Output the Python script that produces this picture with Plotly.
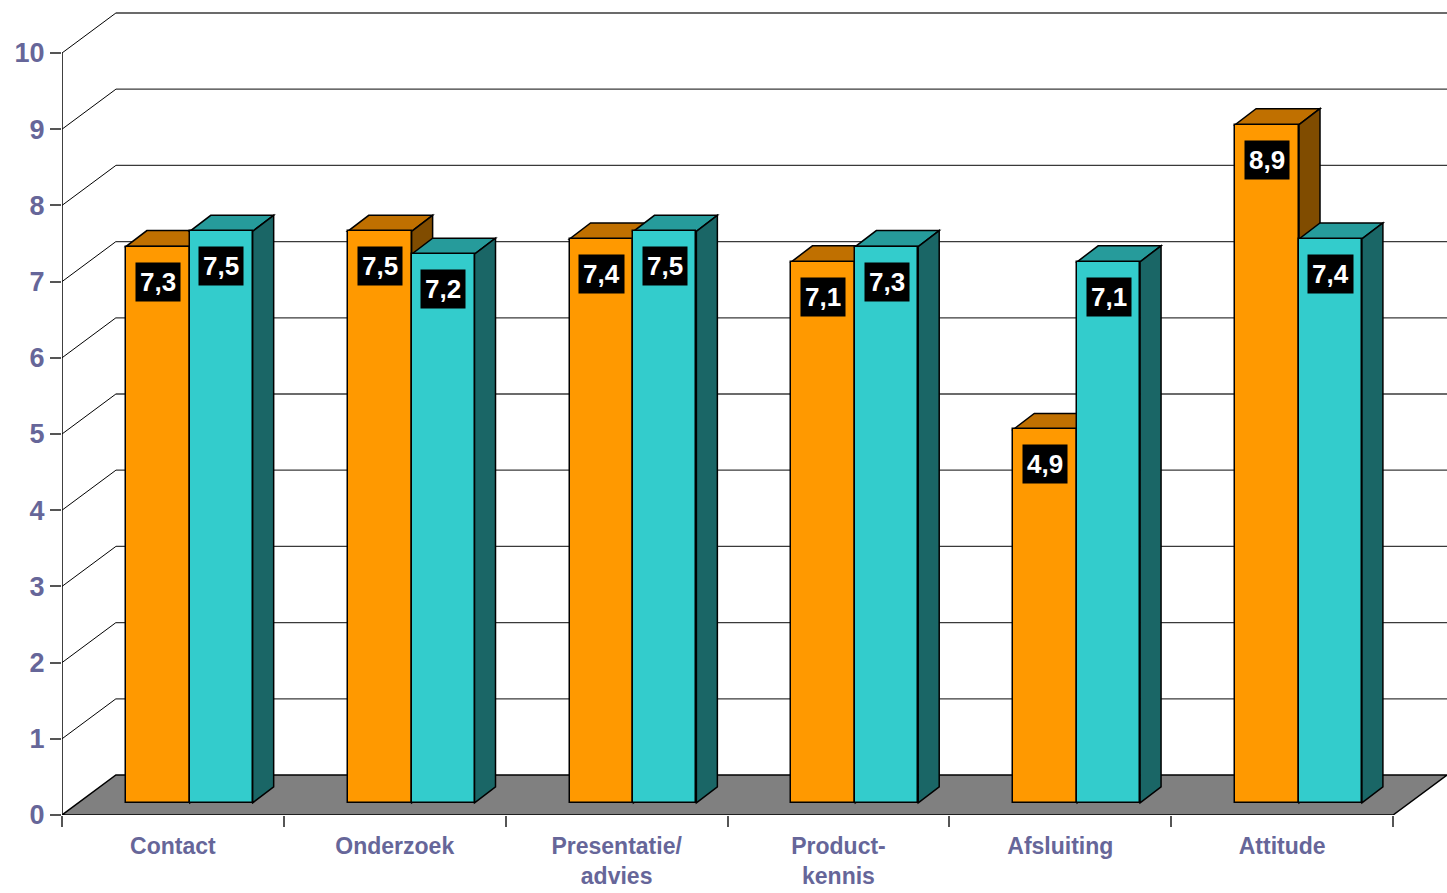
import plotly.graph_objects as go

# ---- data ----
categories = ["Contact", "Onderzoek", "Presentatie/<br>advies", "Product-<br>kennis", "Afsluiting", "Attitude"]
series_a = [7.3, 7.5, 7.4, 7.1, 4.9, 8.9]   # orange
series_b = [7.5, 7.2, 7.5, 7.3, 7.1, 7.4]   # teal
y_ticks = list(range(0, 11))

# ---- styling / pseudo-3D geometry (axis units) ----
FLOOR_DX, FLOOR_DY = 0.243, 0.525     # depth of floor / back wall
BAR_DX, BAR_DY = 0.0946, 0.21         # depth of each bar
BAR_LIFT = 0.16                       # bars' front face sits above the floor front edge
A_LEFT, A_W = 0.288, 0.288            # orange front face start / width inside category
B_LEFT, B_W = 0.576, 0.2835           # teal
COL_A = ("#FF9900", "#C07000", "#804C00")   # front, top, side
COL_B = ("#33CCCC", "#269B9B", "#1A6666")
TXT = "#666699"
FONT = "Liberation Sans, Arial, sans-serif"
n = len(categories)

fig = go.Figure()

shapes = []
# back wall gridlines + side diagonals
for v in y_ticks[1:]:
    shapes.append(dict(type="line", xref="x", yref="y", x0=0, y0=v, x1=FLOOR_DX, y1=v + FLOOR_DY,
                       line=dict(color="black", width=1), layer="below"))
    shapes.append(dict(type="line", xref="x", yref="y", x0=FLOOR_DX, y0=v + FLOOR_DY,
                       x1=n + FLOOR_DX, y1=v + FLOOR_DY,
                       line=dict(color="#3a3a3a", width=1.3), layer="below"))
# floor
shapes.append(dict(type="path", xref="x", yref="y",
                   path=f"M 0,0 L {n},0 L {n + FLOOR_DX},{FLOOR_DY} L {FLOOR_DX},{FLOOR_DY} Z",
                   fillcolor="#808080", line=dict(color="black", width=1.5), layer="below"))
# front axis line
shapes.append(dict(type="line", xref="x", yref="y", x0=0, y0=0, x1=0, y1=y_ticks[-1],
                   line=dict(color="black", width=1.5), layer="below"))


def faces(x0, w, v, cols):
    top = v + BAR_LIFT
    x1 = x0 + w
    out = []
    out.append(dict(type="path", xref="x", yref="y",
                    path=f"M {x0},{top} L {x1},{top} L {x1 + BAR_DX},{top + BAR_DY} L {x0 + BAR_DX},{top + BAR_DY} Z",
                    fillcolor=cols[1], line=dict(color="black", width=1.5), layer="below"))
    out.append(dict(type="path", xref="x", yref="y",
                    path=f"M {x1},{BAR_LIFT} L {x1 + BAR_DX},{BAR_LIFT + BAR_DY} L {x1 + BAR_DX},{top + BAR_DY} L {x1},{top} Z",
                    fillcolor=cols[2], line=dict(color="black", width=1.5), layer="below"))
    return out


for i in range(n):
    shapes += faces(i + A_LEFT, A_W, series_a[i], COL_A)
    shapes += faces(i + B_LEFT, B_W, series_b[i], COL_B)

fig.add_trace(go.Bar(x=[i + A_LEFT + A_W / 2 for i in range(n)], y=series_a, base=BAR_LIFT,
                     width=A_W, marker=dict(color=COL_A[0], line=dict(color="black", width=1.5)),
                     showlegend=False, name="Serie 1"))
fig.add_trace(go.Bar(x=[i + B_LEFT + B_W / 2 for i in range(n)], y=series_b, base=BAR_LIFT,
                     width=B_W, marker=dict(color=COL_B[0], line=dict(color="black", width=1.5)),
                     showlegend=False, name="Serie 2"))

annotations = []
for i in range(n):
    for left, w, v in ((A_LEFT, A_W, series_a[i]), (B_LEFT, B_W, series_b[i])):
        annotations.append(dict(x=i + left + w / 2, y=v + BAR_LIFT, xref="x", yref="y",
                                text=f"{v:.1f}".replace(".", ","), showarrow=False,
                                yanchor="middle", yshift=-35, bgcolor="black", borderpad=4,
                                font=dict(color="white", size=26, family=FONT, weight="bold")))

fig.update_layout(
    width=1447, height=893,
    margin=dict(l=62, r=0, t=0, b=78),
    paper_bgcolor="white", plot_bgcolor="white",
    barmode="overlay", bargap=0,
    shapes=shapes, annotations=annotations,
    xaxis=dict(range=[0, n + FLOOR_DX], tickvals=[i + 0.5 for i in range(n)], ticktext=categories,
               ticks="", showgrid=False, zeroline=False, showline=False, ticklabelstandoff=15,
               tickfont=dict(size=23, color=TXT, family=FONT, weight="bold"),
               minor=dict(tickmode="array", tickvals=list(range(n + 1)), ticks="outside",
                          ticklen=11, tickcolor="#555555", tickwidth=1.5, showgrid=False)),
    yaxis=dict(range=[0, 815 / 76.2], tickvals=y_ticks, ticks="outside", ticklen=11,
               tickcolor="#555555", tickwidth=1.5, showgrid=False, zeroline=False, showline=False,
               tickfont=dict(size=27, color=TXT, family=FONT, weight="bold")),
)

fig.write_html("out.html")
